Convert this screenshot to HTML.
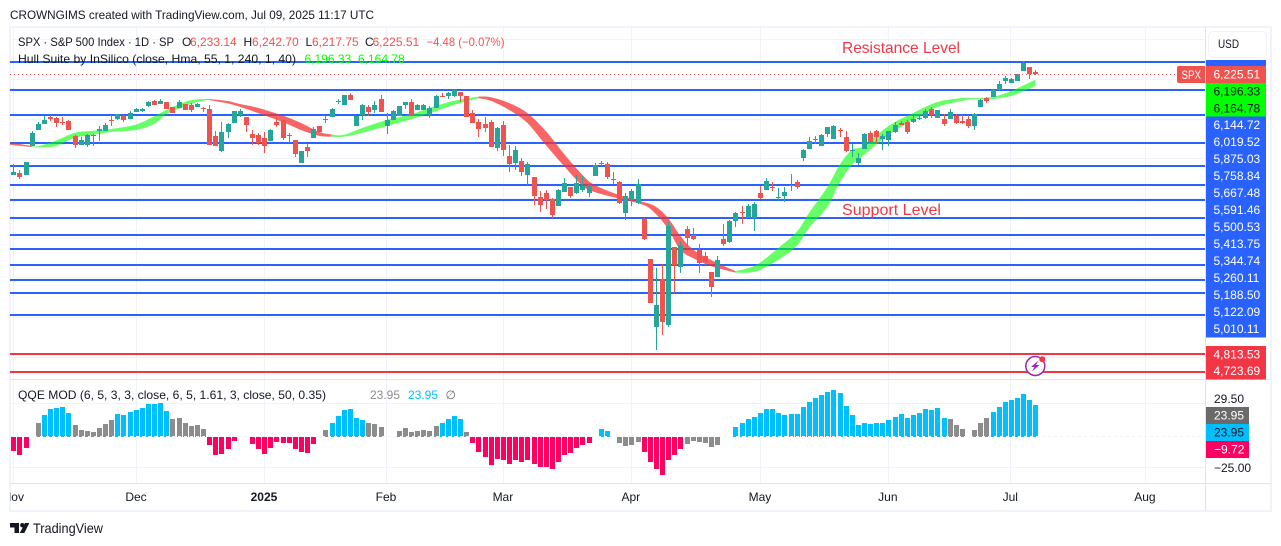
<!DOCTYPE html>
<html lang="en">
<head>
<meta charset="utf-8">
<title>SPX chart</title>
<style>
html,body{margin:0;padding:0;background:#fff;width:1281px;height:546px;overflow:hidden}
svg{position:absolute;left:0;top:0;display:block}
text{font-family:"Liberation Sans",sans-serif;font-size:12px;fill:#131722}
</style>
</head>
<body>
<svg id="chart" xmlns="http://www.w3.org/2000/svg" width="1281" height="546" viewBox="0 0 1281 546">
  <defs>
    <clipPath id="pane-clip"><rect x="10" y="27" width="1195" height="352"/></clipPath>
    <clipPath id="time-clip"><rect x="10" y="484" width="1195" height="26"/></clipPath>
  </defs>
  <text x="10" y="19" textLength="364" lengthAdjust="spacingAndGlyphs">CROWNGIMS created with TradingView.com, Jul 09, 2025 11:17 UTC</text>
  <rect x="10" y="27" width="1261" height="484" fill="#fff" stroke="#f0f3fa" stroke-width="2"/>
  <g id="grid"></g>
  <g id="levels" clip-path="url(#pane-clip)"></g>
  <g id="ribbon" clip-path="url(#pane-clip)"></g>
  <g id="candles" clip-path="url(#pane-clip)"></g>
  <g id="qqe"></g>
  <line id="last-line" x1="10" x2="1177" stroke="#ef5350" stroke-width="1" stroke-dasharray="1 3"/>
  <line x1="10" x2="1271" y1="379.5" y2="379.5" stroke="#e0e3eb"/>
  <line x1="10" x2="1271" y1="483.5" y2="483.5" stroke="#e0e3eb"/>
  <line x1="1205.5" x2="1205.5" y1="27" y2="511" stroke="#e0e3eb"/>

  <g>
    <text x="18" y="46" textLength="156" lengthAdjust="spacingAndGlyphs">SPX · S&amp;P 500 Index · 1D · SP</text>
    <text x="182" y="46">O</text>
    <text x="190" y="46" style="fill:#ef5350">6,233.14</text>
    <text x="243.500" y="46">H</text>
    <text x="252" y="46" style="fill:#ef5350">6,242.70</text>
    <text x="305.500" y="46">L</text>
    <text x="312" y="46" style="fill:#ef5350">6,217.75</text>
    <text x="365" y="46">C</text>
    <text x="372.500" y="46" style="fill:#ef5350">6,225.51</text>
    <text x="426.500" y="46" textLength="78" lengthAdjust="spacingAndGlyphs" style="fill:#ef5350">−4.48 (−0.07%)</text>
    <text x="18" y="63" textLength="278" lengthAdjust="spacingAndGlyphs">Hull Suite by InSilico (close, Hma, 55, 1, 240, 1, 40)</text>
    <text x="304.500" y="63" style="fill:#00ff00">6,196.33</text>
    <text x="358" y="63" style="fill:#00ff00">6,164.78</text>
  </g>

  <text x="842" y="53" textLength="118" lengthAdjust="spacingAndGlyphs" style="font-size:16px;fill:#f23645">Resistance Level</text>
  <text x="842" y="215" textLength="99" lengthAdjust="spacingAndGlyphs" style="font-size:16px;fill:#f23645">Support Level</text>

  <g>
    <text x="18" y="399" textLength="308" lengthAdjust="spacingAndGlyphs">QQE MOD (6, 5, 3, 3, close, 6, 5, 1.61, 3, close, 50, 0.35)</text>
    <text x="370" y="399" style="fill:#8c8c8c">23.95</text>
    <text x="408" y="399" style="fill:#00bfff">23.95</text>
    <text x="445.500" y="399" style="fill:#6a6d78">∅</text>
  </g>

  <g id="price-axis"></g>

  <g>
    <rect x="1208.500" y="31.500" width="58" height="26" rx="5" fill="#fff" stroke="#f0f3fa"/>
    <text x="1218" y="48" textLength="21" lengthAdjust="spacingAndGlyphs">USD</text>
  </g>

  <g>
    <path d="M1179 66H1205V83H1179a2 2 0 0 1-2-2V68a2 2 0 0 1 2-2z" fill="#ef5350"/>
    <text x="1181.500" y="79" textLength="19.500" lengthAdjust="spacingAndGlyphs" style="fill:#fff">SPX</text>
  </g>

  <g id="time-axis" clip-path="url(#time-clip)"></g>

  <g>
    <circle cx="1035.300" cy="366" r="9.500" fill="#fff" stroke="#9c27b0" stroke-width="1.500"/>
    <polygon points="1038.500,360.500 1031,367 1034.500,367 1032,371.500 1039.500,365 1036,365" fill="#9c27b0"/>
    <circle cx="1042.300" cy="359.300" r="3" fill="#f23645"/>
  </g>

  <g>
    <path d="M10 523h9v10h-4.500v-5.500H10z" fill="#131722"/>
    <circle cx="22.300" cy="525.200" r="2.200" fill="#131722"/>
    <polygon points="25,523 29.300,523 24.300,533 19.800,533" fill="#131722"/>
    <text x="33" y="533" textLength="70" lengthAdjust="spacingAndGlyphs" style="font-size:14px">TradingView</text>
  </g>
</svg>
<script>
// ---- Candles (index points) ----
const candleOpens=[5718,5725,5718,5864,5943,5975,6007,6003,5983,5988,5913,5869,5869,5916,5939,5939,5993,5998,6013,6000,6035,6040,6065,6089,6075,6084,6059,6055,6074,6069,6060,6054,6049,5913,5837,5934,5978,6018,6008,5923,5918,5903,5887,5983,5993,5913,5892,5778,5857,5903,5963,5995,6008,6084,6069,6119,5963,6018,6059,6044,6099,5963,5993,6013,6069,6084,6044,6044,6018,6054,6114,6114,6114,6134,6114,6028,5983,5973,5983,5854,5968,5812,5778,5787,5716,5706,5605,5625,5595,5560,5632,5655,5625,5640,5625,5711,5773,5771,5696,5681,5525,5590,5575,5494,5293,4950,5192,4960,5353,5252,5444,5414,5338,5308,5227,5202,5393,5378,5484,5530,5499,5498,5625,5640,5657,5602,5610,5662,5681,5802,5847,5897,5862,5923,5897,5943,5908,5838,5776,5847,5928,5938,5899,5892,5933,5978,5983,5983,6002,6003,6049,6003,5998,5998,6013,5988,5998,5963,6059,6104,6109,6144,6190,6180,6190,6240,6260,6233.14];
const candleHighs=[5771,5741,5781,5938,5982,6013,6018,6008,6008,5993,5919,5909,5924,5924,5963,5977,6018,6023,6018,6040,6054,6054,6090,6094,6099,6084,6059,6094,6076,6077,6080,6059,6069,5936,5983,5977,6041,6049,6008,5943,5929,5934,5946,6010,5993,5929,5892,5837,5872,5959,5963,6013,6054,6099,6119,6128,6013,6074,6069,6089,6119,6027,6044,6064,6084,6099,6074,6074,6064,6119,6129,6132,6148,6134,6114,6044,5996,6007,5993,5959,5988,5867,5862,5800,5780,5706,5635,5640,5600,5645,5701,5655,5716,5711,5674,5775,5786,5781,5731,5686,5625,5645,5696,5501,5293,5247,5267,5479,5353,5383,5459,5449,5368,5328,5227,5308,5469,5489,5530,5560,5570,5580,5661,5701,5681,5650,5655,5721,5691,5847,5906,5913,5923,5958,5968,5953,5938,5872,5827,5928,5938,5943,5923,5938,5983,5988,5993,6018,6023,6049,6059,6044,6023,6049,6023,6018,6018,6028,6099,6109,6149,6190,6215,6205,6225,6291,6260,6242.70];
const candleLows=[5716,5696,5718,5864,5943,5975,5990,5959,5968,5943,5854,5867,5859,5864,5889,5938,5963,5993,5985,5998,6033,6035,6060,6069,6074,6049,6030,6054,6044,6032,6059,6035,5867,5862,5833,5904,5978,6010,5934,5867,5867,5828,5887,5959,5892,5876,5805,5775,5808,5903,5933,5980,6008,6074,6069,6094,5963,5993,6015,6030,6034,5923,5993,6013,6049,6018,6044,6044,6005,6054,6109,6099,6111,6085,6010,5980,5906,5933,5859,5838,5812,5733,5741,5711,5666,5565,5530,5545,5501,5560,5630,5600,5620,5630,5605,5711,5761,5696,5671,5570,5489,5560,5570,5388,5071,4834,4910,4950,5120,5222,5355,5388,5222,5262,5103,5202,5358,5373,5454,5469,5499,5434,5595,5640,5635,5585,5580,5635,5645,5787,5847,5872,5862,5908,5897,5908,5832,5808,5766,5847,5882,5872,5842,5862,5928,5968,5923,5978,5993,5998,6003,6003,5963,5998,5973,5973,5953,5943,6059,6079,6109,6138,6175,6180,6190,6240,6200,6217.75];
const candleCloses=[5731,5706,5781,5928,5973,5993,5998,5978,5980,5943,5869,5892,5918,5919,5948,5968,5990,6023,5993,6030,6049,6049,6084,6070,6089,6050,6030,6084,6045,6044,6074,6050,5869,5864,5933,5973,6039,6039,5968,5903,5876,5862,5943,5968,5901,5918,5822,5837,5837,5948,5933,5998,6049,6087,6119,6094,6013,6069,6034,6069,6034,5993,6039,6064,6084,6018,6069,6069,6054,6114,6111,6129,6144,6116,6010,5980,5949,5953,5859,5953,5844,5773,5842,5733,5771,5612,5566,5592,5514,5640,5676,5610,5676,5660,5666,5766,5776,5706,5692,5575,5610,5635,5671,5393,5071,5061,4975,5459,5261,5363,5398,5393,5272,5277,5152,5288,5367,5484,5524,5526,5560,5570,5600,5686,5654,5605,5630,5666,5655,5842,5887,5894,5918,5958,5963,5939,5837,5842,5802,5923,5882,5908,5913,5938,5968,5968,5933,5998,6005,6039,6018,6042,5973,6032,5978,5978,5963,6022,6094,6089,6144,6175,6205,6200,6225,6280,6225,6225.51];
const lastClose=6225.51;

// ---- Horizontal levels ----
const blueLevels=[6287,6144.72,6019.52,5875.03,5758.84,5667.48,5591.46,5500.53,5413.75,5344.74,5260.11,5188.50,5122.09,5010.11];
const redLevels=[4813.53,4723.69];
const blueLabels=[6144.72,6019.52,5875.03,5758.84,5667.48,5591.46,5500.53,5413.75,5344.74,5260.11,5188.50,5122.09,5010.11];
const hullLabels=[6196.33,6164.78];
const priceGrid=[6400,6200,6000,5800,5600,5400,5200,5000,4800];

// ---- Hull ribbon (sampled bars, prices) ----
const hullBars=[-1,3,4,7,10,13,16,20,23,25,28,30,32,35,37,40,44,47,50,52,54,57,61,65,68,72,76,78,81,84,87,90,93,95,99,103,105,107,109,111,114,118,120,122,125,128,130,133,135,137,139,143,147,151,155,157,160,163,165,167];
const hullFast=[5882,5862,5860,5890,5928,5939,5948,5970,6011,6044,6084,6097,6099,6089,6074,6054,6016,5978,5933,5920,5918,5953,5993,6022,6054,6090,6111,6108,6079,6028,5938,5822,5716,5666,5615,5580,5556,5499,5409,5343,5288,5231,5246,5274,5348,5429,5524,5655,5766,5842,5862,5963,6028,6084,6104,6104,6109,6139,6167,6196.33];
const hullSlow=[5870,5857,5855,5862,5903,5918,5933,5943,5973,6023,6061,6084,6094,6077,6060,6028,5983,5943,5913,5909,5909,5928,5963,5997,6026,6069,6103,6090,6044,5978,5867,5761,5661,5630,5597,5565,5519,5444,5338,5298,5257,5224,5224,5237,5288,5358,5449,5555,5676,5766,5817,5918,5993,6059,6089,6099,6099,6114,6137,6164.78];
const hullTurns=[3,32,52,76,118];

// ---- QQE histogram ----
const qqeValues=[-10.75,-13.75,-8.5,null,10.25,16.25,20.75,21.5,22.25,17.75,8.75,5,4.25,3.5,6.5,9.5,12.5,17,16.25,18.5,20,21.5,24.5,24.5,25.25,19.25,13.25,14,10.25,8,8.75,5.75,-6.25,-13.75,-13,-9.25,-3.25,null,null,-5.5,-9.25,-13,-8.5,-4,-4.75,-4.75,-9.25,-11.5,-12.25,-5.5,null,5,10.25,15.5,20,20.75,14,12.5,10.25,9.5,7.25,null,null,4.25,6.5,3.5,4.25,5,4.25,8,10.25,13.25,15.5,13.25,3.5,-4.75,-11.5,-15.25,-21.25,-16.75,-17.5,-20.5,-17.5,-19,-17.5,-20.5,-22.75,-22.75,-24.25,-19,-13.75,-12.25,-8.5,-6.25,-4.75,null,5.75,4.25,null,-4.75,-7,-6.25,-4,-11.5,-19,-24.25,-28.75,-17.5,-13.75,-9.25,-5.5,-3.25,-4,-4.75,-7.75,-6.25,null,null,7.25,10.25,13.25,14.75,17.75,20.75,20.75,17.75,16.25,17,17,22.25,26,29,31.25,33.5,35,32.75,23,16.25,8.75,10.25,9.5,10.25,10.25,12.5,14.75,17,14,16.25,17.75,20.75,20,21.5,14,13.25,8.75,5.75,null,5,10.25,14,18.5,22.25,26,27.5,29,32,27.5,23.95];
const qqeStates=['rrr','-','g','bbbbb','ggggggg','bbbbbbbbb','gggggg','rrrrr','--','rrrrrrrrrrr','-','g','bbbbbb','ggg','--','ggggggg','bbbb','g','rrrrrrrrrrrrrrrrrrrr','-','bb','-','gggg','rrrrrrr','gggggg','--','bbbbbbbbbbbbbbbbbbbbbbbbbbbbbbbbbbb','ggg','-','ggg','bbbbbbbb'].join('').split('');
const qqeGridValues=[25,-23];
const qqeAxisTicks=[29.50,-25.00];
const qqeTags=[23.95,23.95,-9.72];

// ---- Time axis ----
const monthLabels=['Nov','Dec','2025','Feb','Mar','Apr','May','Jun','Jul','Aug'];
const monthBars=[0,20.05,40.96,60.9,80,100.9,122,142.9,162.9,184.9];

// ---- Axis functions ----
function priceY(p){return (6598-p)/5.04;}
function barX(i){return 13.3+6.12*i;}
function qqeY(v){return 436.7-1.336*v;}
function fmt(v){
  const s=Math.abs(v).toFixed(2).split('.');
  return (v<0?'−':'')+s[0].replace(/\B(?=(\d{3})+$)/g,',')+'.'+s[1];
}
const NS='http://www.w3.org/2000/svg';
function mk(tag,parent,attrs){
  const el=document.createElementNS(NS,tag);
  for(const k in attrs){el.setAttribute(k,attrs[k]);}
  parent.appendChild(el);
  return el;
}

// Grid
const gridG=document.getElementById('grid');
priceGrid.forEach(function(p){
  const g=mk('line',gridG,{x1:10,x2:1205,y1:Math.round(priceY(p))+.5,y2:Math.round(priceY(p))+.5,stroke:'#f0f3fa'});
  
  
});
qqeGridValues.forEach(function(v){
  const g=mk('line',gridG,{x1:10,x2:1205,y1:Math.round(qqeY(v))+.5,y2:Math.round(qqeY(v))+.5,stroke:'#f0f3fa'});
  
  
});
monthBars.forEach(function(b){
  const x=Math.round(barX(b))+.5;
  const g=mk('line',gridG,{x1:x,x2:x,y1:27,y2:483,stroke:'#f0f3fa'});
  
  
});

// Levels
const levelsG=document.getElementById('levels');
blueLevels.forEach(function(p){
  const y=Math.round(priceY(p));
  const l=mk('rect',levelsG,{x:10,width:1195,y:y-1,height:2,fill:'#2962ff'});
  
  
});
redLevels.forEach(function(p){
  const y=Math.round(priceY(p));
  const l=mk('rect',levelsG,{x:10,width:1195,y:y-1,height:2,fill:'#f23645'});
  
  
});

// Hull ribbon: each run between colour turns is a smooth closed band
function smoothPath(pts){
  let d='';
  for(let i=0;i<pts.length-1;i++){
    const p0=pts[Math.max(0,i-1)],p1=pts[i],p2=pts[i+1],p3=pts[Math.min(pts.length-1,i+2)];
    const c1x=p1[0]+(p2[0]-p0[0])/6,c1y=p1[1]+(p2[1]-p0[1])/6;
    const c2x=p2[0]-(p3[0]-p1[0])/6,c2y=p2[1]-(p3[1]-p1[1])/6;
    d+='C'+c1x.toFixed(1)+' '+c1y.toFixed(1)+' '+c2x.toFixed(1)+' '+c2y.toFixed(1)+' '+p2[0].toFixed(1)+' '+p2[1].toFixed(1);
  }
  return d;
}
const ribbonG=document.getElementById('ribbon');
const bounds=[hullBars[0]].concat(hullTurns,[hullBars[hullBars.length-1]]);
for(let s=0;s<bounds.length-1;s++){
  const top=[],bottom=[];
  hullBars.forEach(function(b,i){
    if(b>=bounds[s]&&b<=bounds[s+1]){
      top.push([barX(b),priceY(hullFast[i])]);
      bottom.unshift([barX(b),priceY(hullSlow[i])]);
    }
  });
  const d='M'+top[0][0].toFixed(1)+' '+top[0][1].toFixed(1)+smoothPath(top)+'L'+bottom[0][0].toFixed(1)+' '+bottom[0][1].toFixed(1)+smoothPath(bottom)+'Z';
  const seg=mk('path',ribbonG,{d:d,fill:s%2===0?'rgba(244,50,50,.75)':'rgba(0,255,0,.6)'});
  
  
}

// Candles
const candlesG=document.getElementById('candles');
candleCloses.forEach(function(c,i){
  const o=candleOpens[i],h=candleHighs[i],l=candleLows[i];
  const col=c>=o?'#26a69a':'#ef5350';
  const cx=Math.round(barX(i));
  const yt=priceY(Math.max(o,c)),yb=priceY(Math.min(o,c));
  const g=mk('g',candlesG,{'shape-rendering':'crispEdges'});
  
  
  const w=mk('rect',g,{x:cx,width:1,y:Math.round(priceY(h)),height:Math.max(1,Math.round(priceY(l))-Math.round(priceY(h))),fill:col});
  
  
  const b=mk('rect',g,{x:cx-2,width:5,y:Math.round(yt),height:Math.max(1,Math.round(yb)-Math.round(yt)),fill:col});
  
  
});
const lastLine=document.getElementById('last-line');
lastLine.setAttribute('y1',Math.round(priceY(lastClose))+.5);
lastLine.setAttribute('y2',Math.round(priceY(lastClose))+.5);

// QQE
const qqeG=document.getElementById('qqe');
const stateColors={r:'#ff0062',g:'#8c8c8c',b:'#00bfff'};
qqeValues.forEach(function(v,i){
  if(v===null){return;}
  const y0=qqeY(0),y1=qqeY(v);
  const r=mk('rect',qqeG,{x:Math.round(barX(i))-2,width:5,y:Math.round(Math.min(y0,y1)),height:Math.max(1,Math.round(Math.abs(y1-y0))),fill:stateColors[qqeStates[i]],'shape-rendering':'crispEdges'});
  
  
});
const zero=mk('line',qqeG,{x1:10,x2:1205,y1:436.5,y2:436.5,stroke:'#f0f3fa','stroke-dasharray':'3 3'});



// Price axis
const axisG=document.getElementById('price-axis');
function tag(yTop,w,fill,label,textFill,name,textX){
  const r=mk('rect',axisG,{x:1206,y:yTop,width:w,height:17,fill:fill,'shape-rendering':'crispEdges'});
  
  
  const t=mk('text',axisG,{x:textX,y:yTop+12.5,style:'fill:'+textFill});
  
  
  t.textContent=label;
}
const topStub=mk('rect',axisG,{x:1206,y:60,width:60,height:6,fill:'#2962ff'});


tag(66,60,'#ef5350',fmt(lastClose),'#fff','last-price-tag',1213.5);
hullLabels.forEach(function(p,i){
  tag(83+17*i,60,'#00ff00',fmt(p),'#131722','hull-price-tag',1213.5);
});
blueLabels.forEach(function(p,i){
  tag(116.7+17*i,60,'#2962ff',fmt(p),'#fff','level-price-tag',1213.5);
});
redLevels.forEach(function(p,i){
  tag(346+16.5*i,60,'#f23645',fmt(p),'#fff','major-level-price-tag',1213.5);
});
const qqeTagFills=['#6a6a6a','#00bfff','#ff0062'];
const qqeTagText=['#fff','#131722','#fff'];
qqeTags.forEach(function(v,i){
  tag(407+17*i,43,qqeTagFills[i],fmt(v),qqeTagText[i],'qqe-value-tag',1214);
});
const qqeTickY=[403,472];
qqeAxisTicks.forEach(function(v,i){
  const t=mk('text',axisG,{x:1214,y:qqeTickY[i]});
  
  
  t.textContent=fmt(v);
});

// Time axis
const timeG=document.getElementById('time-axis');
monthLabels.forEach(function(m,i){
  const t=mk('text',timeG,{x:barX(monthBars[i]),y:501,'text-anchor':'middle'});
  
  
  if(m==='2025'){t.setAttribute('font-weight','bold');}
  t.textContent=m;
});
</script>
</body>
</html>
